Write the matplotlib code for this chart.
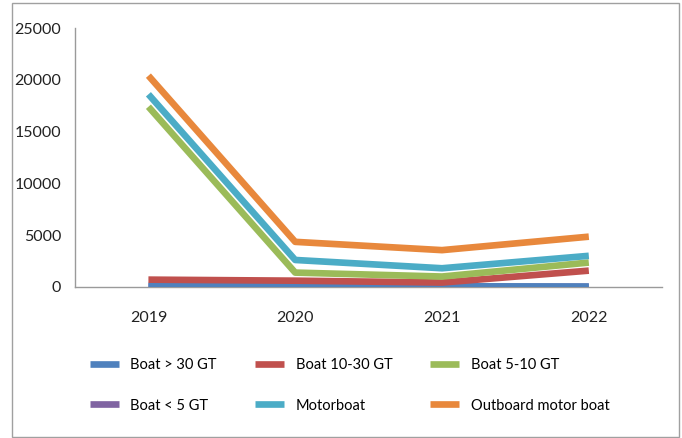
import matplotlib.pyplot as plt
from matplotlib.patches import Rectangle

years = ["2019", "2020", "2021", "2022"]
boat_over_30 = [90, 70, 60, 30]
boat_10_30 = [700, 600, 420, 1570]
boat_5_10 = [17400, 1380, 1000, 2350]
boat_under_5 = [40, 30, 20, 10]
motorboat = [18600, 2600, 1800, 3000]
outboard = [20400, 4350, 3550, 4850]

labels = ["Boat > 30 GT", "Boat 10-30 GT", "Boat 5-10 GT",
          "Boat < 5 GT", "Motorboat", "Outboard motor boat"]
colors = ["#4F81BD", "#C0504D", "#9BBB59", "#8064A2", "#4BACC6", "#E8883C"]


def main():
    plt.rcParams['font.family'] = ['Lato', 'DejaVu Sans']
    fig = plt.figure(figsize=(6.82, 4.38), dpi=100)
    ax = fig.add_axes([0.110, 0.345, 0.861, 0.591])

    series = [boat_over_30, boat_10_30, boat_5_10, boat_under_5, motorboat, outboard]
    # boat < 5 GT sits underneath boat > 30 GT in the original
    zorders = [3, 3, 3, 2, 3, 3]
    x = list(range(len(years)))
    handles = []
    for vals, lab, col, z in zip(series, labels, colors, zorders):
        h, = ax.plot(x, vals, color=col, lw=4.8, label=lab,
                     solid_capstyle='butt', zorder=z)
        handles.append(h)

    ax.set_xlim(-0.5, 3.5)
    ax.set_ylim(0, 25000)
    ax.set_yticks(range(0, 25001, 5000))
    ax.set_xticks(x)
    ax.set_xticklabels(years)
    ax.tick_params(length=0, labelsize=11.5, colors="#222222")
    ax.tick_params(axis='x', pad=17)
    ax.tick_params(axis='y', pad=10)
    for s in ["top", "right"]:
        ax.spines[s].set_visible(False)
    for s in ["left", "bottom"]:
        ax.spines[s].set_color("#9a9a9a")
        ax.spines[s].set_linewidth(1)

    # legend, row-major order with ncol=3
    order = [0, 3, 1, 4, 2, 5]
    fig.legend([handles[i] for i in order], [labels[i] for i in order],
               ncol=3, loc='upper left', bbox_to_anchor=(0.112, 0.212),
               frameon=False, fontsize=10.5, handlelength=2.0,
               handletextpad=0.8, columnspacing=2.6, labelspacing=1.8)

    fig.patches.append(Rectangle((12 / 682, 1 / 438), 667 / 682, 434 / 438,
                                 transform=fig.transFigure, fill=False,
                                 edgecolor="#a0a0a0", lw=1))

    fig.savefig("out.png", dpi=100)


if __name__ == "__main__":
    main()
